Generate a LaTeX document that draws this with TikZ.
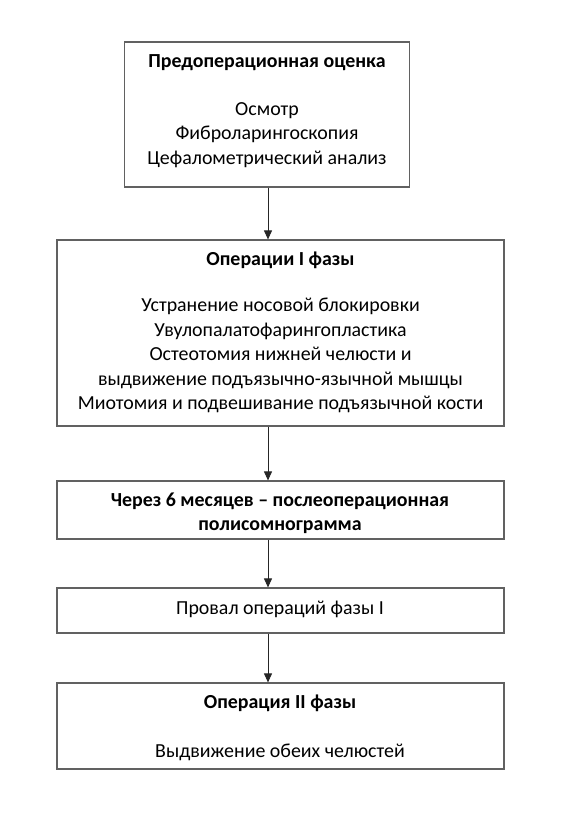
\documentclass[tikz,border=0pt]{standalone}
\usepackage{fontspec}
\setmainfont{Carlito}
\usetikzlibrary{arrows.meta}
\begin{document}
\begin{tikzpicture}[x=1pt,y=-1pt,
  box/.style={draw=black!62,line width=1.2pt,fill=white,inner sep=0pt},
  txt/.style={anchor=base,align=center,inner sep=0pt,font=\fontsize{19.9}{24.5}\selectfont},
  ttl/.style={txt,font=\fontsize{19.9}{24.5}\selectfont\bfseries},
  arr/.style={draw=black!85,line width=0.9pt,-{Triangle[width=8pt,length=9pt]}}]
\useasboundingbox[fill=white] (0,0) rectangle (563,817);
\coordinate (ax) at (268,0);
% boxes
\node[box,minimum width=285pt,minimum height=145pt] (b1) at (267,114.5) {};
\node[box,minimum width=447pt,minimum height=186pt] (b2) at (280.5,333) {};
\node[box,minimum width=447pt,minimum height=58pt] (b3) at (280.5,510) {};
\node[box,minimum width=447pt,minimum height=45pt] (b4) at (280.5,610.5) {};
\node[box,minimum width=447pt,minimum height=86pt] (b5) at (280.5,726) {};
% texts
\node[ttl] (t1) at (267,67) {Предоперационная оценка};
\node[txt] (l1) at (267,115) {Осмотр};
\node[txt] (l1b) at (267,139.5) {Фиброларингоскопия};
\node[txt] (l1c) at (267,164) {Цефалометрический анализ};
\node[ttl] (t2) at (280.5,265) {Операции I фазы};
\node[txt] (l2a) at (280.5,311.5) {Устранение носовой блокировки};
\node[txt] (l2b) at (280.5,336) {Увулопалатофарингопластика};
\node[txt] (l2c) at (280.5,360.5) {Остеотомия нижней челюсти и};
\node[txt] (l2d) at (280.5,385) {выдвижение подъязычно-язычной мышцы};
\node[txt] (l2e) at (280.5,409.5) {Миотомия и подвешивание подъязычной кости};
\node[ttl] (t3a) at (280,506) {Через 6 месяцев – послеоперационная};
\node[ttl] (t3b) at (280,530) {полисомнограмма};
\node[txt] (t4) at (280,614) {Провал операций фазы I};
\node[ttl] (t5) at (280,708.5) {Операция II фазы};
\node[txt] (l5) at (280,757) {Выдвижение обеих челюстей};
% arrows
\draw[arr] (b1.south -| ax) -- (b2.north -| ax);
\draw[arr] (b2.south -| ax) -- (b3.north -| ax);
\draw[arr] (b3.south -| ax) -- (b4.north -| ax);
\draw[arr] (b4.south -| ax) -- (b5.north -| ax);
\end{tikzpicture}
\end{document}
